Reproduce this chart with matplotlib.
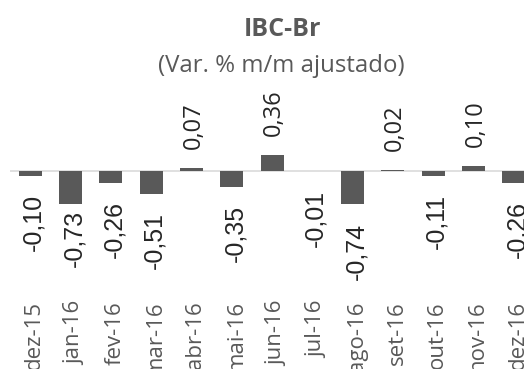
"""
IBC-Br monthly change bar chart (Var. % m/m ajustado)
"""

import matplotlib
matplotlib.use("Agg")
import matplotlib.pyplot as plt

MONTHS = ["dez-15", "jan-16", "fev-16", "mar-16", "abr-16", "mai-16", "jun-16",
          "jul-16", "ago-16", "set-16", "out-16", "nov-16", "dez-16"]
VALUES = [-0.10, -0.73, -0.26, -0.51, 0.07, -0.35, 0.36,
          -0.01, -0.74, 0.02, -0.11, 0.10, -0.26]

# labels that were nudged by hand in the original (pixels, + = towards the bar)
LABEL_NUDGE = {"jan-16": 12}

BAR_COLOR = "#595959"
TEXT_GRAY = "#595959"
AXIS_COLOR = "#d9d9d9"

W, H, DPI = 524, 369, 100
PX = 72 / DPI  # points per pixel

fig = plt.figure(figsize=(W / DPI, H / DPI), dpi=DPI)
# axes from x=10px to the right edge, y from 100px to 296px (top-down)
ax = fig.add_axes([10 / W, (H - 296) / H, (W - 10) / W, 196 / H])

x = list(range(len(MONTHS)))
ax.bar(x, VALUES, width=0.57, color=BAR_COLOR, zorder=3)
ax.axhline(0, color=AXIS_COLOR, linewidth=1.6 * PX, zorder=2)

ax.set_xlim(-0.5, 12.25)
ax.set_ylim(-2.765, 1.571)

for i, (m, v) in enumerate(zip(MONTHS, VALUES)):
    label = f"{v:.2f}".replace(".", ",")
    nudge = LABEL_NUDGE.get(m, 0)
    if v >= 0:
        ax.annotate(label, (i, v), xytext=(2 * PX, (19 - nudge) * PX),
                    textcoords="offset points", rotation=90, ha="center", va="bottom",
                    fontsize=17, family="Open Sans", color="#262626")
    else:
        ax.annotate(label, (i, v), xytext=(3.5 * PX, (-18 + nudge) * PX),
                    textcoords="offset points", rotation=90, ha="center", va="top",
                    fontsize=18, family="Liberation Sans", color="#262626")

# rotated labels sit a touch right of the bar centre (ticks are hidden)
ax.set_xticks([i + 0.11 for i in x])
ax.set_xticklabels(MONTHS, rotation=90, fontsize=16, family="Open Sans", color=TEXT_GRAY)
ax.tick_params(axis="x", length=0, pad=5 * PX)
ax.set_yticks([])
for s in ax.spines.values():
    s.set_visible(False)

fig.text(283 / W, 1 - 36 / H, "IBC-Br", ha="center", va="baseline", fontsize=18,
         fontweight="bold", family="Open Sans", color=TEXT_GRAY)
fig.text(281 / W, 1 - 72.5 / H, "(Var. % m/m ajustado)", ha="center", va="baseline",
         fontsize=17.3, family="Open Sans", color=TEXT_GRAY)

fig.savefig("out.png", dpi=DPI)
